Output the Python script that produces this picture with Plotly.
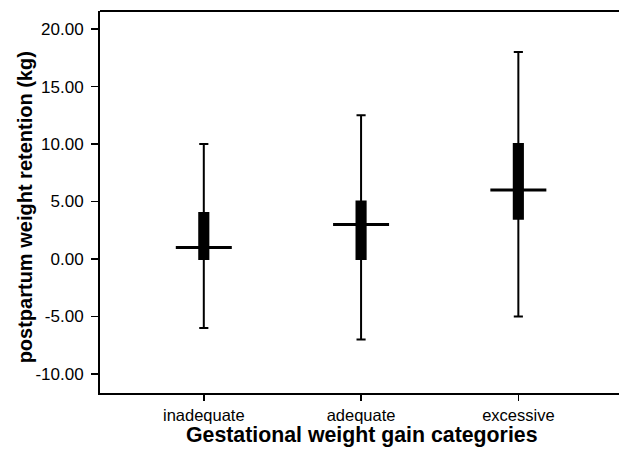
import plotly.graph_objects as go

categories = ["inadequate", "adequate", "excessive"]
lower_whisker = [-6.0, -7.0, -5.0]
q1_values = [0.0, 0.0, 3.5]
median_values = [1.0, 3.0, 6.0]
q3_values = [4.0, 5.0, 10.0]
upper_whisker = [10.0, 12.5, 18.0]

y_tick_values = [-10, -5, 0, 5, 10, 15, 20]
y_tick_labels = ["-10.00", "-5.00", "0.00", "5.00", "10.00", "15.00", "20.00"]

x_title = "Gestational weight gain categories"
y_title = "postpartum weight retention (kg)"

fig = go.Figure()

fig.add_trace(go.Box(
    x=categories,
    q1=q1_values,
    median=median_values,
    q3=q3_values,
    lowerfence=lower_whisker,
    upperfence=upper_whisker,
    fillcolor="black",
    line=dict(color="black", width=2),
    width=0.058,
    whiskerwidth=1,
    boxpoints=False,
    hoverinfo="skip",
    showlegend=False,
))

fig.add_trace(go.Scatter(
    x=categories,
    y=median_values,
    mode="markers",
    marker=dict(symbol="line-ew", size=40, color="black",
                line=dict(color="black", width=3)),
    hoverinfo="skip",
    showlegend=False,
))

fig.update_layout(
    width=619,
    height=457,
    margin=dict(l=100, r=0, t=11, b=64, autoexpand=False),
    paper_bgcolor="white",
    plot_bgcolor="white",
    font=dict(family="Liberation Sans, Arial, sans-serif", color="black"),
    shapes=[dict(type="line", xref="paper", yref="paper", x0=0, x1=1.01, y0=1, y1=1,
                 line=dict(color="black", width=2))],
    annotations=[
        dict(text="<b>" + x_title + "</b>", xref="paper", yref="paper",
             x=0.503, y=0, yshift=-42, xanchor="center", yanchor="middle",
             showarrow=False, font=dict(size=21.3, color="black")),
        dict(text="<b>" + y_title + "</b>", xref="paper", yref="paper",
             x=0, y=0.486, xshift=-75, xanchor="center", yanchor="middle",
             textangle=-90, showarrow=False, font=dict(size=20, color="black")),
    ],
)

fig.update_xaxes(
    type="category",
    categoryorder="array",
    categoryarray=categories,
    range=[-0.66, 2.64],
    automargin=False,
    showline=True, linecolor="black", linewidth=2,
    ticks="outside", ticklen=6, tickwidth=1.5, tickcolor="black",
    showgrid=False, zeroline=False,
    tickfont=dict(size=16.5, color="black"),
    ticklabelstandoff=0,
)

fig.update_yaxes(
    range=[-11.65, 21.57],
    automargin=False,
    tickvals=y_tick_values,
    ticktext=y_tick_labels,
    showline=True, linecolor="black", linewidth=2,
    ticks="outside", ticklen=7, tickwidth=1.5, tickcolor="black",
    showgrid=False, zeroline=False,
    tickfont=dict(size=17, color="black"),
    ticklabelstandoff=4,
)

fig.write_html(
    "out.html",
    config={"displayModeBar": False, "staticPlot": True},
    post_script="document.body.style.margin='0';document.body.style.overflow='hidden';",
)
